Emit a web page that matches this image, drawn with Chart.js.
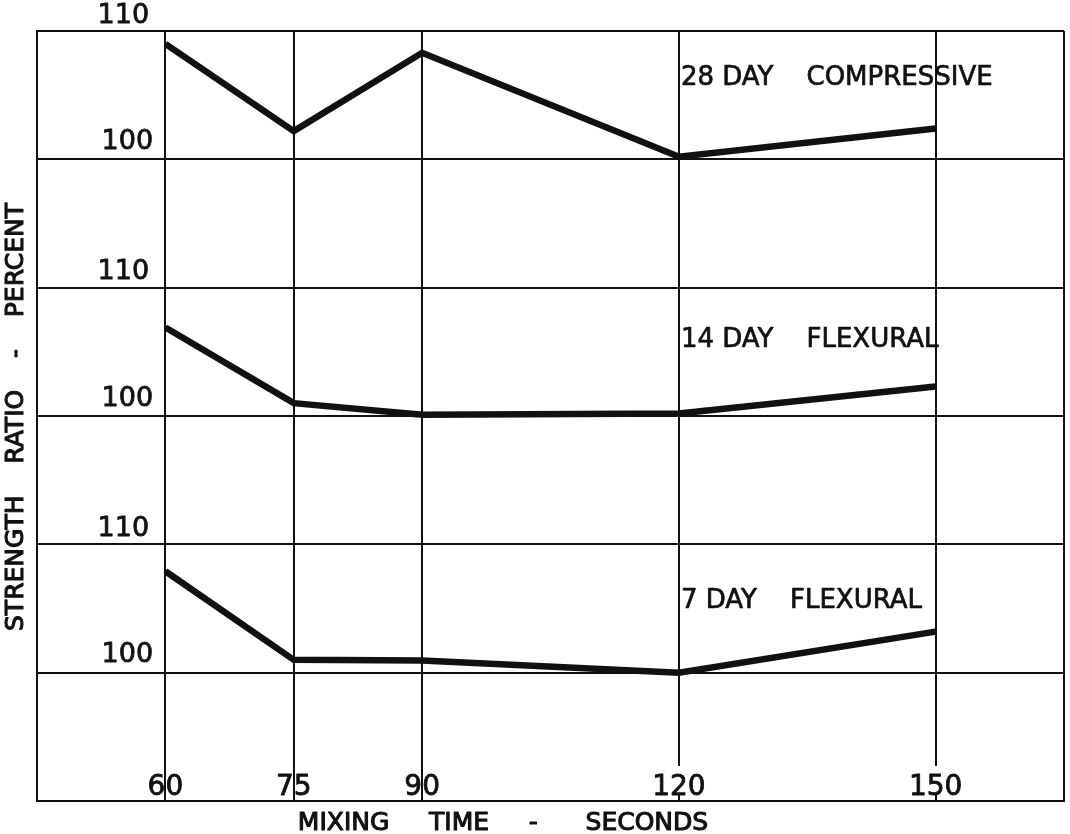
<!DOCTYPE html>
<html>
<head>
<meta charset="utf-8">
<script src="https://cdn.jsdelivr.net/npm/chart.js@4/dist/chart.umd.min.js"></script>
<style>
  html, body { margin: 0; padding: 0; background: #fff; }
  canvas { display: block; }
</style>
</head>
<body>
<canvas id="mixChart" width="1070" height="834"></canvas>
<script>
// mixing time - seconds
const mixTimes = [60, 75, 90, 120, 150];

// strength ratio - percent
const compressive28 = [109.0, 102.2, 108.3, 100.2, 102.4];
const flexural14 = [106.9, 101.0, 100.1, 100.2, 102.3];
const flexural7 = [107.9, 101.0, 100.95, 100.0, 103.2];

const seriesNames = ["28 DAY    COMPRESSIVE", "14 DAY    FLEXURAL", "7 DAY    FLEXURAL"];
const panelTickLabels = ["100", "110"];
const xTickLabels = ["60", "75", "90", "120", "150"];
const xTitle = "MIXING     TIME     -      SECONDS";
const yTitle = "STRENGTH    RATIO    -    PERCENT";

// each panel sits in its own band of the stacked y axis (0..60, 10 per row)
const panelBase = [50, 30, 10];
const gridX = [45, 60, 75, 90, 120, 150, 165];

const ink = "#111";

function stack(values, base) {
    return values.map((v, i) => ({ x: mixTimes[i], y: v - 100 + base }));
}

// lettering on the original is heavier than a plain font, so stroke it a bit
function letter(ctx, text, x, y, weight) {
    ctx.fillText(text, x, y);
    ctx.lineWidth = weight;
    ctx.strokeText(text, x, y);
}

// ✅ labels drawn like the hand lettering on the original sheet
const sheetLabels = {
    id: "sheetLabels",
    afterDatasetsDraw(chart) {
        const { ctx, scales: { x, y } } = chart;
        ctx.save();
        ctx.fillStyle = ink;
        ctx.strokeStyle = ink;
        ctx.lineJoin = "round";
        ctx.font = "27px 'DejaVu Sans'";
        ctx.textAlign = "center";
        ctx.textBaseline = "bottom";

        const labelX = x.getPixelForValue(60) - 38;
        panelBase.forEach(base => {
            letter(ctx, panelTickLabels[0], labelX, y.getPixelForValue(base) - 4, 0.8);
            letter(ctx, panelTickLabels[1], labelX - 4, y.getPixelForValue(base + 10) - 2, 0.8);
        });

        // series names, just right of the 120 line
        ctx.font = "26px 'DejaVu Sans'";
        ctx.textAlign = "left";
        ctx.textBaseline = "middle";
        const nameY = [106.3, 105.9, 105.6];
        seriesNames.forEach((name, i) => {
            letter(ctx, name, x.getPixelForValue(120) + 2, y.getPixelForValue(nameY[i] - 100 + panelBase[i]), 0.7);
        });

        // x tick labels sit inside the frame, above the bottom edge
        ctx.font = "28px 'DejaVu Sans'";
        ctx.textAlign = "center";
        ctx.textBaseline = "alphabetic";
        const tickBase = y.getPixelForValue(0) - 6;
        mixTimes.forEach((t, i) => {
            const px = x.getPixelForValue(t);
            if (t >= 100) {
                const w = ctx.measureText(xTickLabels[i]).width;
                ctx.fillStyle = "#fff";
                ctx.fillRect(px - w / 2 - 2, tickBase - 29, w + 4, 27);
                ctx.fillStyle = ink;
            }
            letter(ctx, xTickLabels[i], px, tickBase, 0.8);
        });

        // axis titles
        ctx.font = "25px 'DejaVu Sans'";
        ctx.textAlign = "center";
        ctx.textBaseline = "middle";
        letter(ctx, xTitle, 503, chart.height - 11, 1.1);

        ctx.translate(16, 417);
        ctx.rotate(-Math.PI / 2);
        letter(ctx, yTitle, 0, 0, 1.1);
        ctx.restore();
    }
};

const lineStyle = {
    borderColor: ink,
    borderWidth: 6.5,
    pointRadius: 0,
    tension: 0,
    fill: false
};

const ctx = document.getElementById("mixChart").getContext("2d");
const mixChart = new Chart(ctx, {
    type: "line",
    data: {
        datasets: [
            { label: seriesNames[0], data: stack(compressive28, panelBase[0]), ...lineStyle },
            { label: seriesNames[1], data: stack(flexural14, panelBase[1]), ...lineStyle },
            { label: seriesNames[2], data: stack(flexural7, panelBase[2]), ...lineStyle }
        ]
    },
    options: {
        responsive: false,
        animation: false,
        layout: { padding: { left: 37, top: 31, right: 6, bottom: 33 } },
        plugins: {
            legend: { display: false },
            tooltip: { enabled: false }
        },
        scales: {
            x: {
                type: "linear",
                min: 45,
                max: 165,
                afterBuildTicks: scale => { scale.ticks = gridX.map(v => ({ value: v })); },
                ticks: { display: false },
                grid: { color: ink, lineWidth: 2, drawTicks: false },
                border: { display: true, color: ink, width: 2 }
            },
            y: {
                type: "linear",
                min: 0,
                max: 60,
                ticks: { display: false, stepSize: 10 },
                grid: { color: ink, lineWidth: 2, drawTicks: false },
                border: { display: true, color: ink, width: 2 }
            }
        }
    },
    plugins: [sheetLabels]
});
</script>
</body>
</html>
